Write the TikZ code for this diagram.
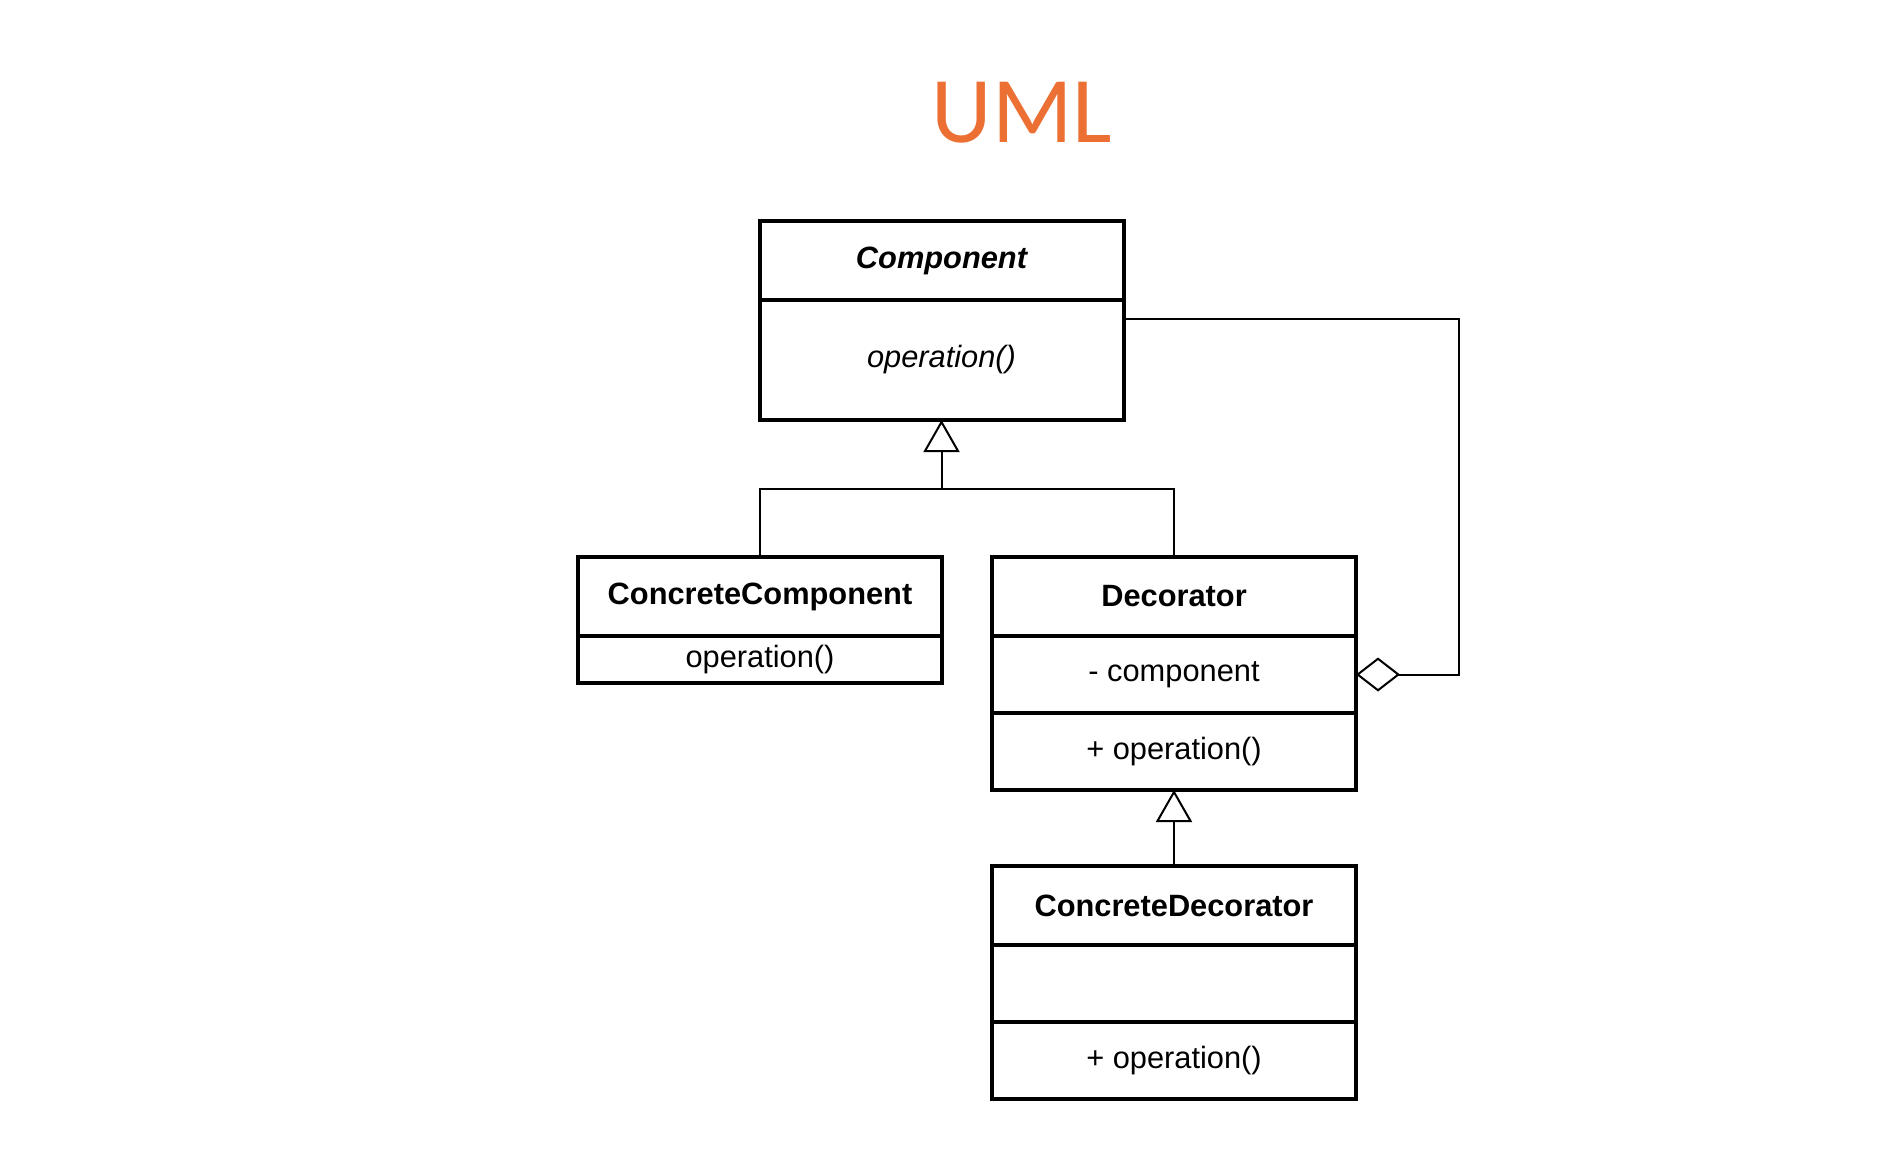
\documentclass[tikz,border=0pt]{standalone}
\usepackage{fontspec}
\setmainfont{Liberation Sans}
\newfontfamily\titlefont{Carlito}
\usetikzlibrary{arrows.meta,positioning,calc}
\definecolor{umlorange}{RGB}{236,112,52}
\tikzset{
  font=\fontsize{15.4}{18}\selectfont,
  cls/.style={
    draw,
    line width=2pt,
    outer sep=0pt,
    inner sep=0pt,
    minimum width=182pt,
    align=center
  },
  head/.style={
    cls,
    minimum height=39.5pt,
    font=\fontsize{15.4}{18}\selectfont\bfseries
  },
  row/.style={
    cls,
    minimum height=38.5pt
  },
  link/.style={line width=1pt},
  inherit/.style={-{Triangle[open,length=16pt,width=18pt]}, line width=1pt},
  aggr/.style={{Diamond[open,length=22pt,width=17pt]}-, line width=1pt}
}

\begin{document}
\begin{tikzpicture}[node distance=25pt]
\useasboundingbox (0,0) rectangle (943pt,-574pt);

\node[font=\titlefont\fontsize{47}{50}\selectfont, text=umlorange, anchor=base] (title) at (511pt,-71pt) {UML};

% Component
\node[head, anchor=north, font=\fontsize{15.4}{18}\selectfont\bfseries\itshape] (comp-head) at (470.75pt,-110.5pt) {Component};
\node[row, minimum height=60pt, below=0pt of comp-head, font=\fontsize{15.4}{18}\selectfont\itshape] (comp-body) {operation()};

% ConcreteComponent
\node[head, anchor=north] (cc-head) at (380pt,-278.5pt) {ConcreteComponent};
\node[row, minimum height=23.5pt, below=0pt of cc-head] (cc-body) {operation()};

% Decorator
\node[head, right=of cc-head] (dec-head) {Decorator};
\node[row, below=0pt of dec-head] (dec-attr) {- component};
\node[row, below=0pt of dec-attr] (dec-ops) {+ operation()};

% ConcreteDecorator
\node[head, below=38pt of dec-ops] (cd-head) {ConcreteDecorator};
\node[row, below=0pt of cd-head] (cd-attr) {};
\node[row, below=0pt of cd-attr] (cd-ops) {+ operation()};

\coordinate (fork) at ($(comp-body.south)!0.5!(comp-body.south |- cc-head.north)$);
\draw[link] (cc-head.north) |- (fork) -| (dec-head.north);
\draw[inherit] (fork) -- (comp-body.south);
\draw[inherit] (cd-head.north) -- (dec-ops.south);

\draw[aggr] (dec-attr.east) -- ++(51.5pt,0) |- ([yshift=-9.5pt]comp-body.north east);

\end{tikzpicture}
\end{document}
